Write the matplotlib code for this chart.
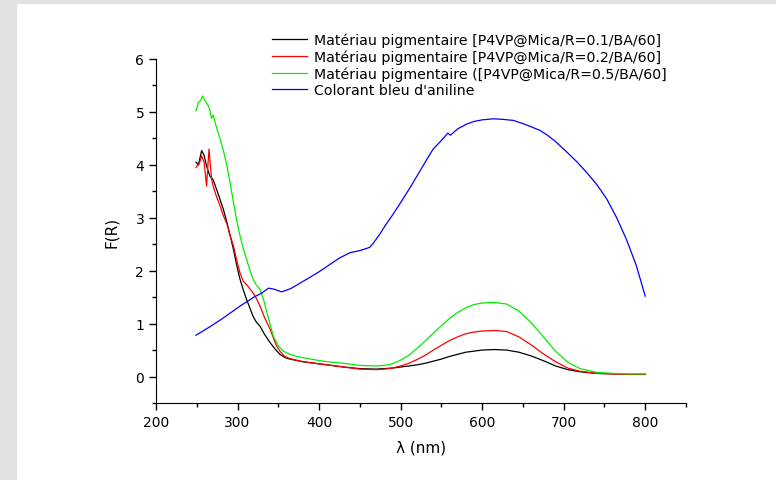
import numpy as np
from matplotlib import pyplot as plt
from matplotlib.patches import Rectangle
from matplotlib.ticker import MultipleLocator

plt.rcParams['font.family'] = ['DejaVu Sans']

# R = 0.1 (black)
wl_r01 = [249, 252, 256, 259, 262, 266, 270, 274, 278.5, 283, 287, 291, 295, 299, 303, 307,
          311, 315, 319, 323, 327.6, 333, 340, 346, 352, 358, 364, 380, 405, 430, 450,
          470, 480, 490, 500, 510, 520, 530, 540, 550, 560, 570, 580, 590, 600, 615, 630, 645,
          660, 675, 690, 705, 720, 740, 760, 780, 800]
f_r01 = [4.05, 4.00, 4.27, 4.18, 3.98, 3.79, 3.72, 3.55, 3.35, 3.14, 2.91, 2.66, 2.40, 2.10, 1.84, 1.64,
         1.46, 1.30, 1.14, 1.03, 0.95, 0.80, 0.64, 0.52, 0.42, 0.36, 0.33, 0.28, 0.23, 0.18, 0.15,
         0.14, 0.15, 0.16, 0.18, 0.20, 0.22, 0.25, 0.29, 0.33, 0.38, 0.42, 0.46, 0.48, 0.50, 0.51, 0.50, 0.46,
         0.39, 0.30, 0.20, 0.13, 0.09, 0.06, 0.05, 0.04, 0.04]

# R = 0.2 (red)
wl_r02 = [249, 253, 256, 259, 262, 265, 268, 270, 274, 278, 282.6, 287, 291, 295, 299, 303,
          307, 311, 315, 319, 323, 327.6, 333, 340, 344, 348, 353, 358, 364, 380, 405, 430, 450,
          470, 480, 490, 500, 510, 520, 530, 540, 550, 560, 570, 580, 590, 600, 615, 630, 645,
          660, 675, 690, 705, 720, 740, 760, 780, 800]
f_r02 = [3.95, 4.02, 4.17, 4.05, 3.60, 4.30, 3.75, 3.60, 3.41, 3.25, 3.04, 2.88, 2.66, 2.47, 2.20, 1.96,
         1.80, 1.74, 1.66, 1.58, 1.48, 1.33, 1.12, 0.89, 0.73, 0.57, 0.46, 0.38, 0.34, 0.28, 0.23, 0.18, 0.14,
         0.13, 0.14, 0.16, 0.20, 0.25, 0.32, 0.40, 0.50, 0.59, 0.68, 0.75, 0.81, 0.84, 0.86, 0.87, 0.85, 0.75,
         0.60, 0.43, 0.28, 0.16, 0.10, 0.06, 0.05, 0.04, 0.04]

# R = 0.5 (green)
wl_r05 = [249, 252, 255, 257, 260, 264, 266, 268, 270, 274, 278.5, 283, 287, 291, 295, 299, 303,
          307, 311, 315, 319, 323, 327.6, 332, 336, 340, 344, 350, 356, 364, 372.6, 390, 405,
          430, 450, 470, 480, 490, 500, 510, 520, 530, 540, 550, 560, 570, 580, 590, 600, 615, 630, 645,
          660, 675, 690, 705, 720, 740, 760, 780, 800]
f_r05 = [5.02, 5.18, 5.22, 5.30, 5.22, 5.12, 5.04, 4.88, 4.94, 4.72, 4.49, 4.25, 3.98, 3.65, 3.29, 2.95, 2.66,
         2.42, 2.22, 2.02, 1.84, 1.73, 1.65, 1.45, 1.21, 0.98, 0.76, 0.58, 0.48, 0.42, 0.38, 0.33, 0.29,
         0.25, 0.21, 0.20, 0.21, 0.24, 0.31, 0.40, 0.53, 0.67, 0.82, 0.96, 1.10, 1.21, 1.30, 1.36, 1.39, 1.40, 1.37, 1.24,
         1.02, 0.75, 0.48, 0.27, 0.15, 0.08, 0.06, 0.05, 0.05]

# aniline blue dye
wl_blue = [249, 265, 280, 303, 320, 330, 338, 345, 354, 365, 385, 400, 413.5, 425, 438, 450, 462,
           467, 474, 481, 490, 499, 512, 524, 532, 540, 550, 558, 561, 570, 581, 590, 600, 614, 625, 638,
           650, 660, 671, 680, 690, 704, 716, 728, 741, 753, 765, 777, 789, 800]
f_blue = [0.78, 0.93, 1.08, 1.33, 1.50, 1.58, 1.67, 1.65, 1.60, 1.66, 1.84, 1.98, 2.12, 2.24, 2.34, 2.38, 2.44,
          2.53, 2.68, 2.85, 3.05, 3.26, 3.58, 3.89, 4.10, 4.30, 4.46, 4.60, 4.56, 4.68, 4.77, 4.82, 4.85, 4.87, 4.86, 4.84,
          4.78, 4.72, 4.65, 4.56, 4.44, 4.24, 4.06, 3.86, 3.62, 3.35, 3.00, 2.59, 2.10, 1.52]

labels = ['Matériau pigmentaire [P4VP@Mica/R=0.1/BA/60]',
          'Matériau pigmentaire [P4VP@Mica/R=0.2/BA/60]',
          'Matériau pigmentaire ([P4VP@Mica/R=0.5/BA/60]',
          "Colorant bleu d'aniline"]

fig = plt.figure(figsize=(7.76, 4.81), dpi=100)
# grey frame of the screenshot
fig.patches.append(Rectangle((0, 0), 16 / 776, 1, transform=fig.transFigure,
                             color='#e2e2e2', zorder=0))
fig.patches.append(Rectangle((0, 1 - 4 / 481), 1, 4 / 481, transform=fig.transFigure,
                             color='#e2e2e2', zorder=0))

ax = fig.add_axes([156 / 776, 1 - 404 / 481, 530 / 776, 344 / 481])
ax.plot(wl_r01, f_r01, color='black', lw=0.9, label=labels[0])
ax.plot(wl_r02, f_r02, color='red', lw=0.9, label=labels[1])
ax.plot(wl_r05, f_r05, color='#00ee00', lw=0.9, label=labels[2])
ax.plot(wl_blue, f_blue, color='blue', lw=0.9, label=labels[3])

ax.set_xlim(200, 850)
ax.set_ylim(-0.5, 6)
ax.xaxis.set_major_locator(MultipleLocator(100))
ax.xaxis.set_minor_locator(MultipleLocator(50))
ax.yaxis.set_major_locator(MultipleLocator(1))
ax.yaxis.set_minor_locator(MultipleLocator(0.5))
ax.spines['top'].set_visible(False)
ax.spines['right'].set_visible(False)
ax.tick_params(which='major', direction='out', length=5, width=1, labelsize=10)
ax.tick_params(which='minor', direction='out', length=3, width=1)
ax.set_xticks([200, 300, 400, 500, 600, 700, 800])
ax.set_yticks([0, 1, 2, 3, 4, 5, 6])

ax.set_xlabel('λ (nm)', fontsize=11, labelpad=8)
ax.set_ylabel('F(R)', fontsize=11, labelpad=12)

ax.legend(loc='upper left', bbox_to_anchor=(266 / 776, 1 - 28 / 481),
          bbox_transform=fig.transFigure, frameon=False, fontsize=10.2,
          handlelength=2.5, handletextpad=0.5, labelspacing=0.17, borderaxespad=0)

fig.savefig('out.png', dpi=100)
